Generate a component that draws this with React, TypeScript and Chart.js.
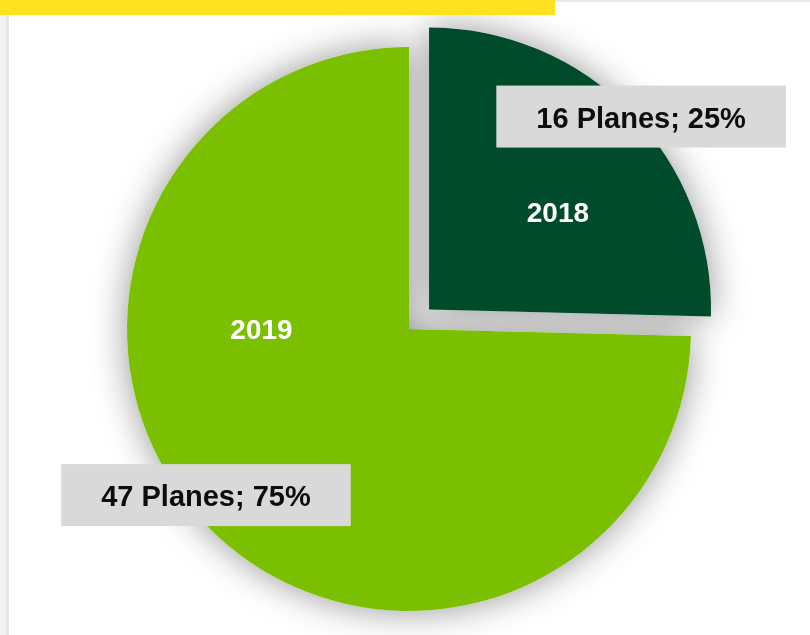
import React, { useEffect, useRef } from "react";
import { Chart, registerables } from "chart.js";

Chart.register(...registerables);

// ---- data ----
const years = ["2018", "2019"];
const planes = [16, 47];
const sliceColors = ["#004b2c", "#7bc000"];
const sliceOffsets = [112, 0];

// label placement (fractions of radius, relative to each slice's vertex)
const yearLabelPos = [
  [0.457, -0.344],
  [-0.523, 0],
];
const boxLabelPos = [
  [0.752, -0.684],
  [-0.72, 0.589],
];

const FONT = '"Liberation Sans", Arial, Helvetica, sans-serif';

function arcVertex(arc: any) {
  const { x, y, startAngle, endAngle, outerRadius } = arc.getProps(
    ["x", "y", "startAngle", "endAngle", "outerRadius"],
    true
  );
  const off = (arc.options.offset || 0) / 4;
  const circ = endAngle - startAngle;
  const fix = 1 - Math.sin(Math.min(Math.PI, circ));
  const t = off * (1 + fix);
  const half = (startAngle + endAngle) / 2;
  return {
    cx: x + Math.cos(half) * t,
    cy: y + Math.sin(half) * t,
    r: outerRadius,
    startAngle,
    endAngle,
  };
}

const shadowPlugin = {
  id: "sliceShadow",
  beforeDatasetsDraw(chart: any) {
    const ctx = chart.ctx;
    const meta = chart.getDatasetMeta(0);
    meta.data.forEach((arc: any) => {
      const v = arcVertex(arc);
      ctx.save();
      ctx.shadowColor = "rgba(0,0,0,0.42)";
      ctx.shadowBlur = 36;
      ctx.fillStyle = "#ffffff";
      ctx.beginPath();
      ctx.moveTo(v.cx, v.cy);
      ctx.arc(v.cx, v.cy, v.r, v.startAngle, v.endAngle);
      ctx.closePath();
      ctx.fill();
      ctx.restore();
    });
  },
};

const labelPlugin = {
  id: "sliceLabels",
  afterDatasetsDraw(chart: any) {
    const ctx = chart.ctx;
    const meta = chart.getDatasetMeta(0);
    const data = chart.data.datasets[0].data as number[];
    const total = data.reduce((a, b) => a + b, 0);
    meta.data.forEach((arc: any, i: number) => {
      const v = arcVertex(arc);
      // year label
      const yf = 28;
      ctx.save();
      ctx.font = `bold ${yf}px ${FONT}`;
      ctx.fillStyle = "#ffffff";
      ctx.textAlign = "center";
      ctx.textBaseline = "alphabetic";
      const yx = v.cx + yearLabelPos[i][0] * v.r;
      const yy = v.cy + yearLabelPos[i][1] * v.r;
      ctx.fillText(chart.data.labels[i], yx, yy + yf * 0.358);
      ctx.restore();

      // boxed value label
      const bf = 29;
      const pct = Math.round((data[i] / total) * 100);
      const text = `${data[i]} Planes; ${pct}%`;
      ctx.save();
      ctx.font = `bold ${bf}px ${FONT}`;
      const tw = ctx.measureText(text).width;
      const bw = tw + 80;
      const bh = 62;
      const bx = v.cx + boxLabelPos[i][0] * v.r;
      const by = v.cy + boxLabelPos[i][1] * v.r;
      ctx.fillStyle = "#d9d9d9";
      ctx.fillRect(bx - bw / 2, by - bh / 2, bw, bh);
      ctx.fillStyle = "#0d0d0d";
      ctx.textAlign = "center";
      ctx.textBaseline = "alphabetic";
      ctx.fillText(text, bx, by + bf * 0.358 + 1);
      ctx.restore();
    });
  },
};

export default function App() {
  const canvasRef = useRef<HTMLCanvasElement | null>(null);

  useEffect(() => {
    if (!canvasRef.current) return;
    const chart = new Chart(canvasRef.current, {
      type: "pie",
      data: {
        labels: years,
        datasets: [
          {
            data: planes,
            backgroundColor: sliceColors,
            borderWidth: 0,
            offset: sliceOffsets,
          },
        ],
      },
      options: {
        responsive: false,
        animation: false,
        radius: 282,
        rotation: 0,
        layout: { padding: { left: 8, right: 0, top: 23, bottom: 0 } },
        plugins: {
          legend: { display: false },
          tooltip: { enabled: false },
        },
      } as any,
      plugins: [shadowPlugin, labelPlugin],
    });
    return () => chart.destroy();
  }, []);

  return (
    <div
      style={{
        position: "absolute",
        left: 0,
        top: 0,
        width: 810,
        height: 635,
        background: "#ffffff",
        overflow: "hidden",
      }}
    >
      <div
        style={{
          position: "absolute",
          left: 0,
          top: 15,
          width: 6,
          height: 620,
          background: "#f1f1f1",
        }}
      />
      <div
        style={{
          position: "absolute",
          left: 6,
          top: 15,
          width: 3,
          height: 620,
          background: "#e6e6e6",
        }}
      />
      <div
        style={{
          position: "absolute",
          left: 555,
          top: 0,
          width: 255,
          height: 2,
          background: "#e8e8e8",
        }}
      />
      <canvas
        ref={canvasRef}
        width={810}
        height={635}
        style={{ position: "absolute", left: 0, top: 0, width: 810, height: 635 }}
      />
      <div
        style={{
          position: "absolute",
          left: 0,
          top: 0,
          width: 555,
          height: 15,
          background: "#ffe21f",
        }}
      />
    </div>
  );
}
